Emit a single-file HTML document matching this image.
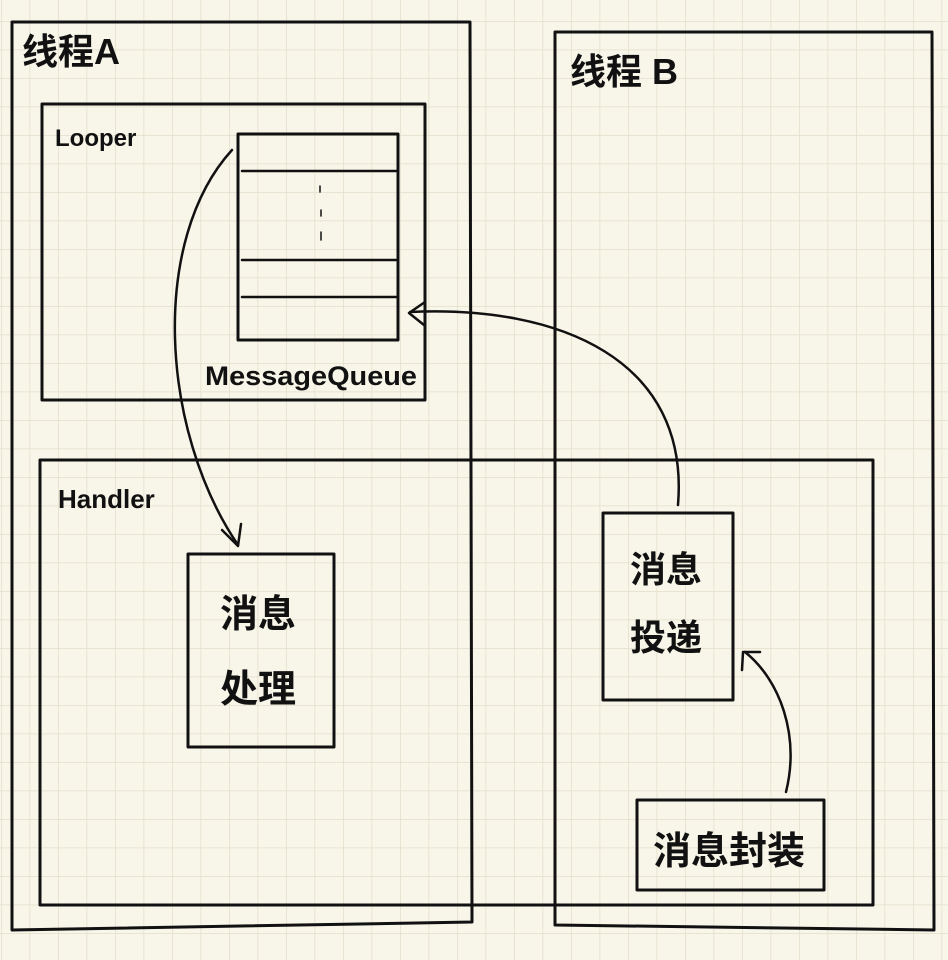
<!DOCTYPE html>
<html><head><meta charset="utf-8"><style>
html,body{margin:0;padding:0;background:#f8f5e9;}
svg{display:block}
text{font-family:"Liberation Sans","Noto Sans CJK SC",sans-serif;fill:#111}
</style></head><body>
<svg width="948" height="960" viewBox="0 0 948 960" xmlns="http://www.w3.org/2000/svg">
<defs>
<pattern id="g" x="1" y="21" width="28.5" height="28.5" patternUnits="userSpaceOnUse">
<path d="M0 0V28.5M0 0H28.5" stroke="#e4dfca" stroke-width="1.5" fill="none"/>
</pattern>
</defs>
<rect width="948" height="960" fill="#f8f5e9"/>
<rect width="948" height="960" fill="url(#g)"/>
<g fill="none" stroke="#111" stroke-width="3" stroke-linejoin="round" stroke-linecap="round">
<path d="M12 22 L470 22 L472 922 L12 930 Z"/>
<path d="M555 32 L932 32 L934 930 L555 925 Z"/>
<path d="M42 104 L425 104 L425 400 L42 400 Z"/>
<path d="M238 134 L398 134 L398 340 L238 340 Z"/>
<path d="M242 171 L396 171 M242 260 L396 260 M242 297 L396 297" stroke-width="2.5"/>
<path d="M320 186 L320 192 M321 210 L321 216 M321 232 L321 240" stroke-width="1.5"/>
<path d="M40 460 L873 460 L873 905 L40 905 Z"/>
<path d="M188 554 L334 554 L334 747 L188 747 Z"/>
<path d="M603 513 L733 513 L733 700 L603 700 Z"/>
<path d="M637 800 L824 800 L824 890 L637 890 Z"/>
<path d="M232 150 C150 240 160 430 238 545" stroke-width="2.5"/>
<path d="M222 530 L238 546 L241 524" stroke-width="2.5"/>
<path d="M678 505 C690 360 560 305 410 312" stroke-width="2.5"/>
<path d="M425 302 L409 313 L424 325" stroke-width="2.5"/>
<path d="M786 792 C800 735 780 680 745 652" stroke-width="2.5"/>
<path d="M742 670 L743 652 L760 652" stroke-width="2.5"/>
</g>
<g style="font-weight:bold">
<text x="22" y="64" font-size="36">线程A</text>
<text x="570" y="84" font-size="36">线程 B</text>
<text x="55" y="146" font-size="24">Looper</text>
<text x="205" y="385" font-size="27" textLength="212" lengthAdjust="spacingAndGlyphs">MessageQueue</text>
<text x="58" y="508" font-size="26">Handler</text>
<text x="220" y="627" font-size="38">消息</text>
<text x="220" y="702" font-size="38">处理</text>
<text x="630" y="582" font-size="36">消息</text>
<text x="630" y="650" font-size="36">投递</text>
<text x="653" y="864" font-size="38">消息封装</text>
</g>
</svg>
</body></html>
